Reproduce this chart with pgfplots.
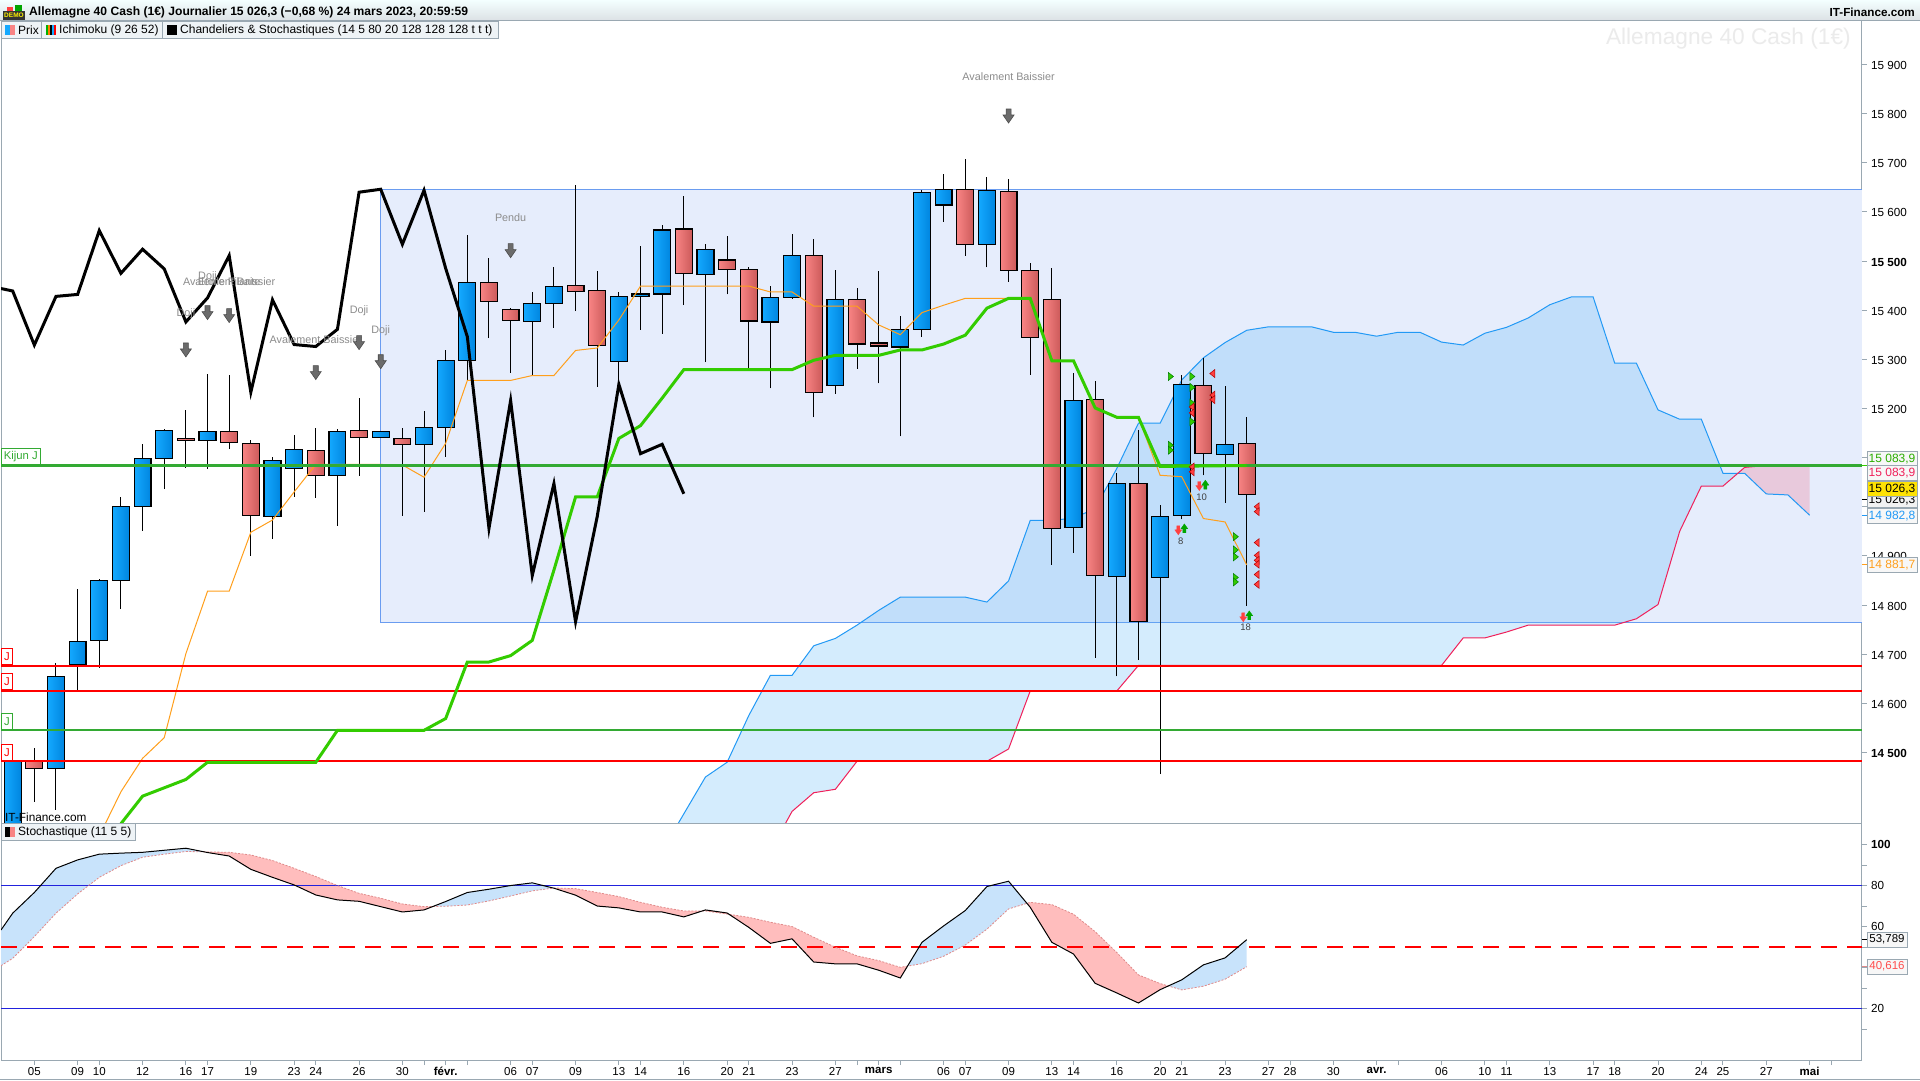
\documentclass[border=0pt]{standalone}
\usepackage{fontspec}
\setmainfont{Liberation Sans}
\usepackage{pgfplots}
\pgfplotsset{compat=1.18}
\definecolor{bL}{HTML}{14A9FF}\definecolor{bR}{HTML}{0085DF}
\definecolor{rL}{HTML}{F88484}\definecolor{rR}{HTML}{CC5A5A}
\definecolor{frame}{HTML}{9AA8B2}
\definecolor{boxfill}{HTML}{E6EDFC}\definecolor{boxline}{HTML}{6A9CF0}
\definecolor{cloud}{RGB}{84,180,248}
\definecolor{pinkc}{HTML}{E8C9DC}
\definecolor{senA}{HTML}{2299F5}\definecolor{senB}{HTML}{F0205A}
\definecolor{tenk}{HTML}{FF9F1C}\definecolor{kij}{HTML}{33CC00}
\definecolor{hgreen}{HTML}{33AA33}
\definecolor{patt}{HTML}{8C8C8C}
\definecolor{legbg}{HTML}{EEF3F6}
\definecolor{stblue}{HTML}{C8E3FB}\definecolor{stred}{HTML}{FFBDBD}
\definecolor{stD}{HTML}{E08A8A}\definecolor{stline}{HTML}{2222DD}
\newcommand{\candle}[6]{%
 \pgfmathsetmacro\xa{#1-0.39}\pgfmathsetmacro\xb{#1+0.39}%
 \addplot[black,line width=1pt,forget plot] coordinates {(#1,#2)(#1,#3)};
 \addplot[draw=black,line width=1.2pt,left color=#6L,right color=#6R,forget plot] coordinates {(\xa,#4)(\xb,#4)(\xb,#5)(\xa,#5)} --cycle;
}
\pgfdeclareplotmark{dn}{%
 \pgfpathmoveto{\pgfpoint{-2.5pt}{7pt}}\pgfpathlineto{\pgfpoint{2.5pt}{7pt}}\pgfpathlineto{\pgfpoint{2.5pt}{1pt}}%
 \pgfpathlineto{\pgfpoint{5.5pt}{1pt}}\pgfpathlineto{\pgfpoint{0pt}{-7pt}}\pgfpathlineto{\pgfpoint{-5.5pt}{1pt}}%
 \pgfpathlineto{\pgfpoint{-2.5pt}{1pt}}\pgfpathclose\pgfusepathqfillstroke}
\pgfdeclareplotmark{sdn}{%
 \pgfpathmoveto{\pgfpoint{-1.5pt}{4.5pt}}\pgfpathlineto{\pgfpoint{1.5pt}{4.5pt}}\pgfpathlineto{\pgfpoint{1.5pt}{0.5pt}}%
 \pgfpathlineto{\pgfpoint{3.5pt}{0.5pt}}\pgfpathlineto{\pgfpoint{0pt}{-4.5pt}}\pgfpathlineto{\pgfpoint{-3.5pt}{0.5pt}}%
 \pgfpathlineto{\pgfpoint{-1.5pt}{0.5pt}}\pgfpathclose\pgfusepathqfillstroke}
\pgfdeclareplotmark{sup}{%
 \pgfpathmoveto{\pgfpoint{-1.5pt}{-4.5pt}}\pgfpathlineto{\pgfpoint{1.5pt}{-4.5pt}}\pgfpathlineto{\pgfpoint{1.5pt}{-0.5pt}}%
 \pgfpathlineto{\pgfpoint{3.5pt}{-0.5pt}}\pgfpathlineto{\pgfpoint{0pt}{4.5pt}}\pgfpathlineto{\pgfpoint{-3.5pt}{-0.5pt}}%
 \pgfpathlineto{\pgfpoint{-1.5pt}{-0.5pt}}\pgfpathclose\pgfusepathqfillstroke}
\pgfdeclareplotmark{trr}{%
 \pgfpathmoveto{\pgfpoint{-2.5pt}{-4pt}}\pgfpathlineto{\pgfpoint{2.5pt}{0pt}}\pgfpathlineto{\pgfpoint{-2.5pt}{4pt}}\pgfpathclose\pgfusepathqfillstroke}
\pgfdeclareplotmark{trl}{%
 \pgfpathmoveto{\pgfpoint{2.5pt}{-4pt}}\pgfpathlineto{\pgfpoint{-2.5pt}{0pt}}\pgfpathlineto{\pgfpoint{2.5pt}{4pt}}\pgfpathclose\pgfusepathqfillstroke}
\tikzset{pat/.style={font=\fontsize{10.8}{12}\selectfont,text=patt,inner sep=0pt},
 vbox/.style={draw=frame,line width=0.8pt,fill=#1,minimum width=50pt,minimum height=14.5pt,inner sep=0pt,font=\fontsize{12}{14}\selectfont},
 vbox/.default=white,
 lft/.style={draw,line width=0.7pt,fill=white,anchor=south west,inner sep=0pt}}
\begin{document}
\begin{tikzpicture}[x=1pt,y=1pt]
\useasboundingbox (0,0) rectangle (1920,1080);
\fill[white] (0,0) rectangle (1920,1080);
\begin{axis}[at={(1pt,257pt)},anchor=south west,width=1861pt,height=802pt,scale only axis,
 xmin=-0.54,xmax=85.42,ymin=14356.4,ymax=15988.4,
 axis line style={frame,line width=1pt},
 xtick=\empty,
 ytick={14500,14600,14700,14800,14900,15000,15100,15200,15300,15400,15500,15600,15700,15800,15900},
 yticklabels={\textbf{14 500},14 600,14 700,14 800,14 900,15 000,,15 200,15 300,15 400,\textbf{15 500},15 600,15 700,15 800,15 900},
 ytick pos=right,yticklabel pos=right,tick align=outside,major tick length=5pt,
 tick style={frame,line width=1pt},
 yticklabel style={font=\fontsize{11.7}{14}\selectfont,anchor=west,inner sep=0pt,xshift=4pt,yshift=-1pt,text=black},
 ]
% pattern rectangle
\addplot[fill=boxfill,draw=boxline,line width=0.9pt,forget plot] coordinates {(17,14765)(87,14765)(87,15646)(17,15646)} --cycle;
% cloud
\addplot[fill=cloud,fill opacity=0.25,draw=none,forget plot] coordinates {(30,14300)(31,14375)(32,14450)(33,14480)(34,14575)(35,14657)(36,14657)(37,14717)(38,14732)(39,14759)(40,14789)(41,14816)(42,14816)(43,14816)(44,14816)(45,14806)(46,14849)(47,14972)(48,14972)(49,14977)(50,14996)(51,15078)(52,15170)(53,15170)(54,15258)(55,15303)(56,15334)(57,15359)(58,15366)(59,15366)(60,15366)(61,15355)(62,15355)(63,15347)(64,15355)(65,15355)(66,15335)(67,15329)(68,15353)(69,15365)(70,15384)(71,15411)(72,15427)(73,15427)(74,15292)(75,15292)(76,15197)(77,15178)(78,15178)(79,15068)(79.68,15068)(79,15042)(78,15042)(77,14950)(76,14801)(75,14772)(74,14759)(73,14759)(72,14759)(71,14759)(70,14759)(69,14745)(68,14733)(67,14733)(66,14677)(52,14677)(51,14625)(47,14625)(46,14507)(45,14482)(39,14482)(38,14425)(37,14418)(36,14380)(35,14300)} --cycle;
\addplot[fill=pinkc,draw=none,forget plot] coordinates {(79.68,15068)(80,15068)(81,15026)(82,15024)(83,14982.8)(83,15083.9)(82,15083.9)(81,15083.9)(80,15080)} --cycle;
\addplot[senA,line width=1pt,forget plot] coordinates {(30,14300)(31,14375)(32,14450)(33,14480)(34,14575)(35,14657)(36,14657)(37,14717)(38,14732)(39,14759)(40,14789)(41,14816)(42,14816)(43,14816)(44,14816)(45,14806)(46,14849)(47,14972)(48,14972)(49,14977)(50,14996)(51,15078)(52,15170)(53,15170)(54,15258)(55,15303)(56,15334)(57,15359)(58,15366)(59,15366)(60,15366)(61,15355)(62,15355)(63,15347)(64,15355)(65,15355)(66,15335)(67,15329)(68,15353)(69,15365)(70,15384)(71,15411)(72,15427)(73,15427)(74,15292)(75,15292)(76,15197)(77,15178)(78,15178)(79,15068)(80,15068)(81,15026)(82,15024)(83,14982.8)};
\addplot[senB,line width=1pt,forget plot] coordinates {(35,14300)(36,14380)(37,14418)(38,14425)(39,14482)(40,14482)(41,14482)(42,14482)(43,14482)(44,14482)(45,14482)(46,14507)(47,14625)(48,14625)(49,14625)(50,14625)(51,14625)(52,14677)(53,14677)(54,14677)(55,14677)(56,14677)(57,14677)(58,14677)(59,14677)(60,14677)(61,14677)(62,14677)(63,14677)(64,14677)(65,14677)(66,14677)(67,14733)(68,14733)(69,14745)(70,14759)(71,14759)(72,14759)(73,14759)(74,14759)(75,14772)(76,14801)(77,14950)(78,15042)(79,15042)(80,15080)(81,15083.9)(82,15083.9)(83,15083.9)};
% candles: k, low, high, body bottom, body top, colour
\candle{0}{14300}{14506}{14300}{14482}{b}
\candle{1}{14400}{14510}{14467.5}{14482}{r}
\candle{2}{14383}{14681}{14467.5}{14655}{b}
\candle{3}{14625}{14832}{14679}{14726}{b}
\candle{4}{14672}{14853}{14728}{14850}{b}
\candle{5}{14792}{15020}{14850}{15001}{b}
\candle{6}{14951}{15127}{15001}{15098}{b}
\candle{7}{15036}{15158}{15098}{15155}{b}
\candle{8}{15079}{15197}{15135}{15139}{r}
\candle{9}{15077}{15270}{15135}{15153}{b}
\candle{10}{15117}{15268}{15131}{15153}{r}
\candle{11}{14900}{15136}{14982}{15129}{r}
\candle{12}{14935}{15101}{14980}{15094}{b}
\candle{13}{15020}{15146}{15078}{15117}{b}
\candle{14}{15018}{15160}{15064}{15115}{r}
\candle{15}{14961}{15159}{15064}{15153}{b}
\candle{16}{15063}{15221}{15141}{15155}{r}
\candle{17}{15141}{15153}{15141}{15153}{b}
\candle{18}{14982}{15161}{15127}{15139}{r}
\candle{19}{14990}{15195}{15127}{15161}{b}
\candle{20}{15102}{15319}{15161}{15298}{b}
\candle{21}{15258}{15553}{15298}{15456}{b}
\candle{22}{15343}{15506}{15417}{15456}{r}
\candle{23}{15273}{15404}{15379}{15402}{r}
\candle{24}{15267}{15437}{15377}{15414}{b}
\candle{25}{15364}{15488}{15414}{15448}{b}
\candle{26}{15398}{15654}{15438}{15450}{r}
\candle{27}{15244}{15480}{15328}{15440}{r}
\candle{28}{15251}{15437}{15296}{15428}{b}
\candle{29}{15360}{15531}{15428}{15433}{b}
\candle{30}{15352}{15574}{15433}{15563}{b}
\candle{31}{15410}{15633}{15475}{15565}{r}
\candle{32}{15294}{15535}{15473}{15524}{b}
\candle{33}{15432}{15551}{15483}{15502}{r}
\candle{34}{15280}{15488}{15378}{15483}{r}
\candle{35}{15241}{15450}{15376}{15426}{b}
\candle{36}{15423}{15555}{15426}{15512}{b}
\candle{37}{15182}{15545}{15233}{15512}{r}
\candle{38}{15230}{15482}{15247}{15422}{b}
\candle{39}{15281}{15445}{15331}{15422}{r}
\candle{40}{15251}{15480}{15327}{15333}{r}
\candle{41}{15143}{15388}{15325}{15361}{b}
\candle{42}{15346}{15645}{15361}{15640}{b}
\candle{43}{15580}{15677}{15614}{15646}{b}
\candle{44}{15511}{15708}{15534}{15646}{r}
\candle{45}{15487}{15671}{15534}{15644}{b}
\candle{46}{15458}{15667}{15481}{15642}{r}
\candle{47}{15269}{15496}{15345}{15481}{r}
\candle{48}{14882}{15485}{14956}{15422}{r}
\candle{49}{14906}{15272}{14958}{15216}{b}
\candle{50}{14693}{15256}{14860}{15218}{r}
\candle{51}{14655}{15068}{14858}{15047}{b}
\candle{52}{14688}{15156}{14766}{15047}{r}
\candle{53}{14456}{15003}{14856}{14980}{b}
\candle{54}{14974}{15268}{14982}{15249}{b}
\candle{55}{15064}{15302}{15108}{15247}{r}
\candle{56}{15008}{15245}{15106}{15127}{b}
\candle{57}{14798}{15182}{15025}{15129}{r}
% tenkan
\addplot[tenk,line width=1pt,forget plot] coordinates {(4,14330)(5,14420)(6,14488)(7,14530)(8,14701)(9,14828)(10,14828)(11,14948)(12,14973)(13,15030)(14,15086)(15,15086)(16,15086)(17,15086)(18,15085)(19,15060)(20,15129)(21,15257)(22,15257)(23,15257)(24,15267)(25,15267)(26,15318)(27,15323)(28,15380)(29,15449)(30,15449)(31,15449)(32,15449)(33,15449)(34,15449)(35,15437)(36,15437)(37,15408)(38,15408)(39,15408)(40,15370)(41,15350)(42,15395)(43,15410)(44,15424)(45,15424)(46,15424)(47,15424)(48,15297)(49,15297)(50,15201)(51,15182)(52,15182)(53,15064)(54,15061)(55,14976)(56,14969)(57,14881.7)};
% horizontal levels
\addplot[hgreen,line width=2.2pt,forget plot] coordinates {(-1,15083.9)(87,15083.9)};
\addplot[hgreen,line width=2.2pt,forget plot] coordinates {(-1,14545)(87,14545)};
\addplot[red,line width=2.2pt,forget plot] coordinates {(-1,14676)(87,14676)};
\addplot[red,line width=2.2pt,forget plot] coordinates {(-1,14625)(87,14625)};
\addplot[red,line width=2.2pt,forget plot] coordinates {(-1,14482)(87,14482)};
% kijun
\addplot[kij,line width=3pt,forget plot] coordinates {(5,14355)(6,14411)(8,14445)(9,14480)(14,14480)(15,14545)(19,14545)(20,14569)(21,14684)(22,14684)(23,14697)(24,14728)(25,14871)(26,15020)(27,15020)(28,15139)(29,15165)(30,15221)(31,15279)(36,15279)(37,15298)(38,15308)(40,15308)(41,15319)(42,15319)(43,15331)(44,15349)(45,15404)(46,15424)(47,15424)(48,15297)(49,15297)(50,15201)(51,15182)(52,15182)(53,15082)(57,15083.9)};
% chikou
\addplot[black,line width=3pt,forget plot] coordinates {(-0.54,15444)(0,15439)(1,15329)(2,15428)(3,15432)(4,15562)(5,15475)(6,15524)(7,15484)(8,15376)(9,15425)(10,15511)(11,15233)(12,15421)(13,15330)(14,15326)(15,15361)(16,15640)(17,15646)(18,15534)(19,15644)(20,15485)(21,15346)(22,14956)(23,15216)(24,14860)(25,15047)(26,14766)(27,14980)(28,15249)(29,15108)(30,15127)(31,15026.3)};
% pattern arrows
\addplot[only marks,mark=dn,mark options={fill=black!58,draw=black!70,line width=0.6pt},forget plot] coordinates {(8,15319)(9,15395)(10,15389)(14,15273)(16,15334)(17,15295)(23,15521)(46,15795)};
\addplot[only marks,mark=trr,mark options={fill=kij,draw=green!50!black,line width=0.5pt},forget plot] coordinates {(53.5,15265)(54.49,15265)(54.49,15243)(54.49,15211)(54.49,15173)(53.5,15125)(53.5,15115)(56.5,14939)(56.5,14912)(56.5,14898)(56.5,14856)(56.5,14847)};
\addplot[only marks,mark=trl,mark options={fill=red!75,draw=red!70!black,line width=0.5pt},forget plot] coordinates {(55.41,15271)(55.41,15227)(55.41,15218)(54.46,15203)(54.46,15191)(54.46,15081)(54.46,15071)(57.46,15000)(57.46,14990)(57.46,14927)(57.46,14901)(57.46,14891)(57.46,14883)(57.46,14862)(57.46,14842)};
\addplot[only marks,mark=sdn,mark options={fill=red!75,draw=red!75,line width=0.3pt},forget plot] coordinates {(53.84,14952)(54.81,15042)(56.84,14775)};
\addplot[only marks,mark=sup,mark options={fill=green!65!black,draw=green!65!black,line width=0.3pt},forget plot] coordinates {(54.12,14956)(55.09,15045)(57.12,14779)};
% labels
\node[pat] at (axis cs:8,15392) {Doji};
\node[pat] at (axis cs:9,15468) {Doji};
\node[pat] at (axis cs:10,15459) {Avalement Baissier};
\node[pat] at (axis cs:10,15459) {Etoile Filante};
\node[pat] at (axis cs:14,15340) {Avalement Baissier};
\node[pat] at (axis cs:16,15399) {Doji};
\node[pat] at (axis cs:17,15359) {Doji};
\node[pat] at (axis cs:23,15589) {Pendu};
\node[pat] at (axis cs:46,15875) {Avalement Baissier};
\node[font=\fontsize{9.5}{11}\selectfont,text=black!75,inner sep=0pt] at (axis cs:53.95,14930) {8};
\node[font=\fontsize{9.5}{11}\selectfont,text=black!75,inner sep=0pt] at (axis cs:54.92,15020) {10};
\node[font=\fontsize{9.5}{11}\selectfont,text=black!75,inner sep=0pt] at (axis cs:56.95,14754) {18};
\end{axis}
\begin{axis}[at={(1pt,20pt)},anchor=south west,width=1861pt,height=237pt,scale only axis,
 xmin=-0.54,xmax=85.42,ymin=-4.9,ymax=110.7,
 axis line style={frame,line width=1pt},
 xtick={1,3,4,6,8,9,11,13,14,16,18,19,20,21,23,24,26,28,29,31,33,34,36,38,39,40,41,43,44,46,48,49,51,53,54,56,58,59,61,63,64,66,68,69,71,73,74,76,78,79,81,83,84},
 xticklabels={05,09,10,12,16,17,19,23,24,26,30,,\textbf{févr.},,06,07,09,13,14,16,20,21,23,27,,\textbf{mars},,06,07,09,13,14,16,20,21,23,27,28,30,\textbf{avr.},,06,10,11,13,17,18,20,24,25,27,\textbf{mai},},
 ytick={10,20,30,40,50,60,70,80,90,100},
 yticklabels={,20,,40,,60,,80,,\textbf{100}},
 ytick pos=right,xtick pos=bottom,yticklabel pos=right,xticklabel pos=bottom,tick align=outside,major tick length=5pt,
 tick style={frame,line width=1pt},
 xticklabel style={font=\fontsize{11.5}{14}\selectfont,inner sep=0pt,yshift=-2pt,text=black},
 yticklabel style={font=\fontsize{11.7}{14}\selectfont,anchor=west,inner sep=0pt,xshift=4pt,text=black},
 ]
\addplot[fill=stblue,draw=none,forget plot] coordinates {(-0.54,58.5)(0,66.7)(1,76.8)(2,88.6)(3,92.7)(4,95.5)(5,96)(6,96.4)(7,97.4)(8,98.4)(8.84,96.6)(8,96.8)(7,95.5)(6,94)(5,89.9)(4,84.2)(3,76.1)(2,66.7)(1,55.3)(0,44.7)(-0.54,41.1)} --cycle;
\addplot[fill=stred,draw=none,forget plot] coordinates {(8.84,96.6)(9,96.3)(10,94.6)(11,88.1)(12,84.2)(13,80.5)(14,75.6)(15,73.2)(16,72.5)(17,69.9)(18,67.3)(19,68.3)(19.41,70)(19,69.9)(18,71.2)(17,74)(16,76.4)(15,80.2)(14,84.6)(13,88.6)(12,92.4)(11,95.1)(10,96.4)(9,96.6)} --cycle;
\addplot[fill=stblue,draw=none,forget plot] coordinates {(19.41,70)(20,72.4)(21,76.8)(22,78.4)(23,80.2)(24,81.5)(24.98,79)(24,77.6)(23,75.1)(22,72.7)(21,70.7)(20,70.1)} --cycle;
\addplot[fill=stred,draw=none,forget plot] coordinates {(24.98,79)(25,78.9)(26,75.5)(27,70.2)(28,69.3)(29,67.3)(30,67.3)(31,64.9)(32,68.3)(33,66.8)(34,59.8)(35,52)(36,54.2)(37,42.9)(38,42)(39,42)(40,38.9)(41,35.1)(41.33,40.9)(41,40.3)(40,43.6)(39,45.9)(38,50.1)(37,55)(36,60.2)(35,62.3)(34,64.7)(33,66.3)(32,67.8)(31,67.8)(30,69.6)(29,72)(28,74.8)(27,76.8)(26,78.7)(25,79)} --cycle;
\addplot[fill=stblue,draw=none,forget plot] coordinates {(41.33,40.9)(42,52.5)(43,60.5)(44,68)(45,79.7)(46,82.3)(46.85,71.5)(46,68.8)(45,58.9)(44,51.2)(43,45.7)(42,42.1)} --cycle;
\addplot[fill=stred,draw=none,forget plot] coordinates {(46.85,71.5)(47,69.6)(48,52.5)(49,46.8)(50,32.5)(51,27.8)(52,22.9)(53,29.4)(53.38,31.2)(53,32.4)(52,36.6)(51,47.5)(50,57.7)(49,66.2)(48,70.9)(47,72)} --cycle;
\addplot[fill=stblue,draw=none,forget plot] coordinates {(53.38,31.2)(54,34.2)(55,41.5)(56,44.9)(57,53.789)(57,40.616)(56,34.5)(55,31.1)(54,29.3)} --cycle;
\addplot[stline,line width=1pt,forget plot] coordinates {(-1,80)(87,80)};
\addplot[stline,line width=1pt,forget plot] coordinates {(-1,20)(87,20)};
\addplot[red,line width=2pt,dash pattern=on 16pt off 10pt,forget plot] coordinates {(-0.54,50)(85.42,50)};
\addplot[stD,line width=0.8pt,dash pattern=on 2pt off 1.5pt,forget plot] coordinates {(-0.54,41.1)(0,44.7)(1,55.3)(2,66.7)(3,76.1)(4,84.2)(5,89.9)(6,94)(7,95.5)(8,96.8)(9,96.6)(10,96.4)(11,95.1)(12,92.4)(13,88.6)(14,84.6)(15,80.2)(16,76.4)(17,74)(18,71.2)(19,69.9)(20,70.1)(21,70.7)(22,72.7)(23,75.1)(24,77.6)(25,79)(26,78.7)(27,76.8)(28,74.8)(29,72)(30,69.6)(31,67.8)(32,67.8)(33,66.3)(34,64.7)(35,62.3)(36,60.2)(37,55)(38,50.1)(39,45.9)(40,43.6)(41,40.3)(42,42.1)(43,45.7)(44,51.2)(45,58.9)(46,68.8)(47,72)(48,70.9)(49,66.2)(50,57.7)(51,47.5)(52,36.6)(53,32.4)(54,29.3)(55,31.1)(56,34.5)(57,40.616)};
\addplot[black,line width=1pt,forget plot] coordinates {(-0.54,58.5)(0,66.7)(1,76.8)(2,88.6)(3,92.7)(4,95.5)(5,96)(6,96.4)(7,97.4)(8,98.4)(9,96.3)(10,94.6)(11,88.1)(12,84.2)(13,80.5)(14,75.6)(15,73.2)(16,72.5)(17,69.9)(18,67.3)(19,68.3)(20,72.4)(21,76.8)(22,78.4)(23,80.2)(24,81.5)(25,78.9)(26,75.5)(27,70.2)(28,69.3)(29,67.3)(30,67.3)(31,64.9)(32,68.3)(33,66.8)(34,59.8)(35,52)(36,54.2)(37,42.9)(38,42)(39,42)(40,38.9)(41,35.1)(42,52.5)(43,60.5)(44,68)(45,79.7)(46,82.3)(47,69.6)(48,52.5)(49,46.8)(50,32.5)(51,27.8)(52,22.9)(53,29.4)(54,34.2)(55,41.5)(56,44.9)(57,53.789)};
\end{axis}
% top strip
\shade[top color=white!85!cyan!30,bottom color=frame!35] (0,1059) rectangle (1920,1080);
\draw[frame,line width=1pt] (0,1059) -- (1920,1059);
\draw[frame,line width=1pt] (0,0.5) -- (1920,0.5);
% demo icon
\fill[black!80] (3,1060) rectangle (25,1069);
\node[font=\bfseries\fontsize{6.5}{7}\selectfont,text=yellow,inner sep=0pt] at (14,1064.5) {DEMO};
\fill[red!75] (7,1069) rectangle (13,1073);
\fill[green!65!black] (15,1069) rectangle (22,1075);
\node[anchor=west,inner sep=0pt,font=\bfseries\fontsize{12.1}{14}\selectfont] at (29,1067.5) {Allemagne 40 Cash (1€) Journalier 15 026,3 (−0,68 \%) 24 mars 2023, 20:59:59};
\node[anchor=east,inner sep=0pt,font=\bfseries\fontsize{11.7}{13}\selectfont] at (1915,1067.5) {IT-Finance.com};
\node[anchor=east,inner sep=0pt,font=\fontsize{22.7}{26}\selectfont,text=black!8] at (1851,1041.5) {Allemagne 40 Cash (1€)};
% legends
\draw[frame,line width=0.8pt,fill=legbg] (1,1042) rectangle (41,1059);
\draw[frame,line width=0.8pt,fill=legbg] (41,1042) rectangle (162,1059);
\draw[frame,line width=0.8pt,fill=legbg] (162,1042) rectangle (498,1059);
\fill[bL] (5,1045) rectangle (10,1055);\fill[rL] (10,1045) rectangle (15,1055);
\fill[green!70!black] (46,1045) rectangle (48,1055);\fill[orange] (48,1045) rectangle (50,1055);\fill[black] (50,1045) rectangle (52,1055);\fill[bL] (52,1045) rectangle (54,1055);\fill[red] (54,1045) rectangle (56,1055);
\fill[black] (167,1045) rectangle (177,1055);
\node[anchor=west,inner sep=0pt,font=\fontsize{12}{13}\selectfont] at (18,1049.5) {Prix};
\node[anchor=west,inner sep=0pt,font=\fontsize{12}{13}\selectfont] at (59,1049.5) {Ichimoku (9 26 52)};
\node[anchor=west,inner sep=0pt,font=\fontsize{12}{13}\selectfont] at (180,1049.5) {Chandeliers \& Stochastiques (14 5 80 20 128 128 128 t t t)};
\draw[frame,line width=0.8pt,fill=legbg] (1,240) rectangle (135,257);
\fill[black] (5,243) rectangle (10,253);\fill[rL] (10,243) rectangle (15,253);
\node[anchor=west,inner sep=0pt,font=\fontsize{12}{13}\selectfont] at (18,247.5) {Stochastique (11 5 5)};
\node[anchor=west,inner sep=0pt,font=\fontsize{11.8}{13}\selectfont] at (5,262.5) {IT-Finance.com};
% left level tags
\node[lft,draw=hgreen,text=hgreen,minimum width=39pt,minimum height=16pt,font=\fontsize{11.3}{12}\selectfont] at (1,615) {\raisebox{-1pt}{Kijun J}};
\node[lft,draw=red,text=red,minimum width=11pt,minimum height=16pt,font=\fontsize{11.3}{12}\selectfont] at (1,415) {\raisebox{-1pt}{J}};
\node[lft,draw=red,text=red,minimum width=11pt,minimum height=16pt,font=\fontsize{11.3}{12}\selectfont] at (1,390) {\raisebox{-1pt}{J}};
\node[lft,draw=hgreen,text=hgreen,minimum width=11pt,minimum height=16pt,font=\fontsize{11.3}{12}\selectfont] at (1,350) {\raisebox{-1pt}{J}};
\node[lft,draw=red,text=red,minimum width=11pt,minimum height=16pt,font=\fontsize{11.3}{12}\selectfont] at (1,319) {\raisebox{-1pt}{J}};
% right value boxes
\draw[black,line width=1pt] (1862,580) -- (1867,580);
\draw[kij,line width=1pt] (1862,614.5) -- (1867,614.5);
\draw[tenk,line width=1pt] (1862,515) -- (1867,515);
\draw[senA,line width=1pt] (1862,564) -- (1867,564);
\node[vbox=black!5,text=black] at (1892,580) {15 026,3};
\node[vbox=black!3,text=kij!85!black] at (1892,621) {15 083,9};
\node[vbox=black!3,text=senB] at (1892,607) {15 083,9};
\node[vbox=black!3,text=senA] at (1892,564) {14 982,8};
\node[vbox=black!3,text=tenk] at (1892,515) {14 881,7};
\node[vbox=yellow!85!orange,text=black] at (1892,591) {15 026,3};
\draw[black,line width=1pt] (1862,140.5) -- (1867,140.5);
\draw[stD,line width=1pt] (1862,113.5) -- (1867,113.5);
\node[draw=frame,line width=0.8pt,fill=black!3,minimum width=40pt,minimum height=15pt,inner sep=0pt,font=\fontsize{11.5}{14}\selectfont] at (1887,140.5) {53,789};
\node[draw=frame,line width=0.8pt,fill=black!3,minimum width=40pt,minimum height=15pt,inner sep=0pt,text=red!70,font=\fontsize{11.5}{14}\selectfont] at (1887,113.5) {40,616};
\end{tikzpicture}
\end{document}
